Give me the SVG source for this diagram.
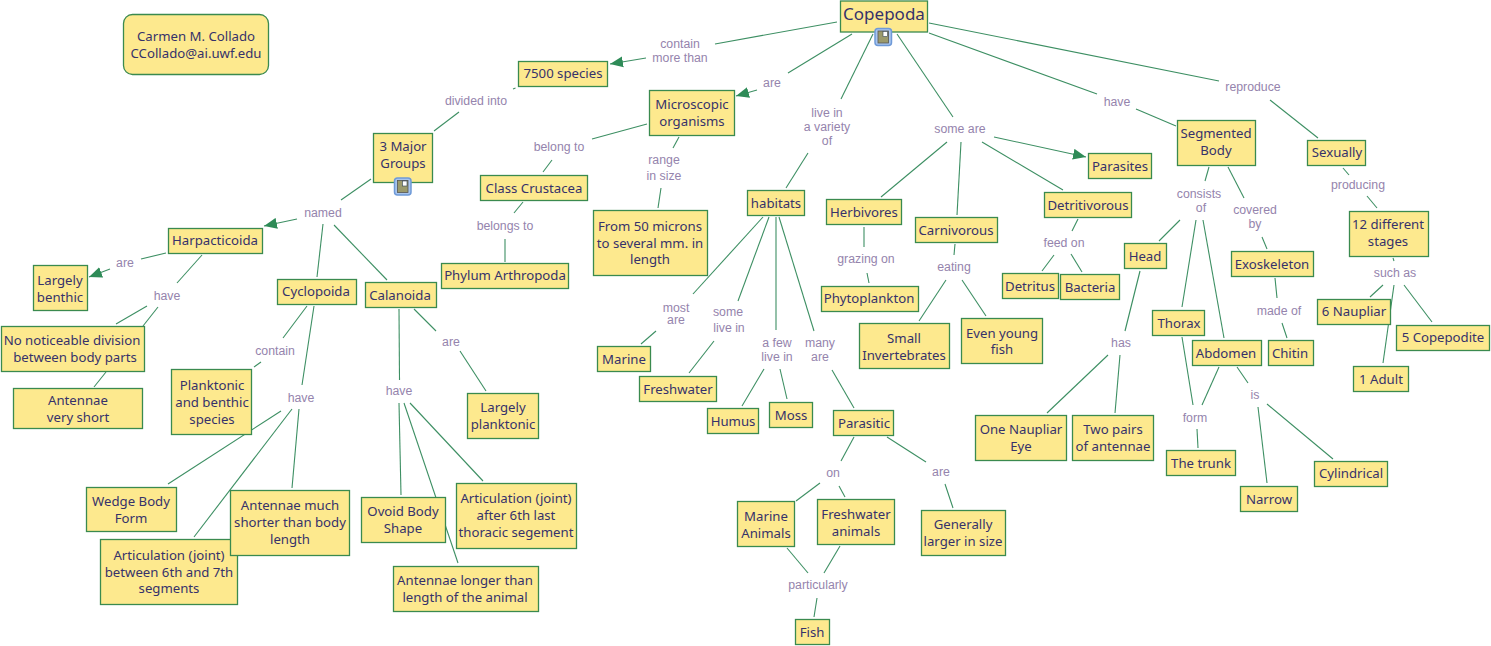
<svg xmlns="http://www.w3.org/2000/svg" width="1491" height="646" viewBox="0 0 1491 646">
<defs>
<marker id="arr" markerUnits="userSpaceOnUse" markerWidth="14" markerHeight="12" refX="13" refY="6" orient="auto"><path d="M0,0.500L13,6L0,11.500z" fill="#2e8b57"/></marker>
<g id="doc"><rect x="0" y="0" width="16.500" height="17" rx="3" fill="#a9c6ee" stroke="#6f9ad8" stroke-width="1.500"/><rect x="3" y="2.500" width="10.500" height="12" fill="#9b9a6c" stroke="#555" stroke-width="0.800"/><rect x="8" y="3" width="4.500" height="5" fill="#fff" stroke="#345" stroke-width="0.600"/></g>
</defs>
<style>
rect.n{fill:#fde98e;stroke:#3a8a4f;stroke-width:1.300}
text{text-anchor:middle}
.t{font:13.200px "Noto Sans","Open Sans",sans-serif;fill:#36326a;transform:translateY(-0.500px)}
.l{font:12.300px "Liberation Sans",Arial,sans-serif;fill:#9584ad}
#c line{stroke:#3d8f63;stroke-width:1.100;fill:none}
</style>
<rect width="1491" height="646" fill="#fff"/>
<g id="c">
<line x1="837" y1="22" x2="715" y2="44"/><line x1="646" y1="58" x2="610" y2="64" marker-end="url(#arr)"/>
<line x1="852" y1="34" x2="788" y2="73"/><line x1="757" y1="90" x2="736" y2="96" marker-end="url(#arr)"/>
<line x1="873" y1="34" x2="841" y2="99"/><line x1="808" y1="153" x2="786" y2="188"/>
<line x1="897" y1="34" x2="953" y2="117"/>
<line x1="929" y1="33" x2="1097" y2="94"/><line x1="1136" y1="109" x2="1176" y2="126"/>
<line x1="929" y1="23" x2="1219" y2="81"/><line x1="1270" y1="100" x2="1318" y2="138"/>
<line x1="515.500" y1="88" x2="513" y2="89"/><line x1="459" y1="112" x2="434" y2="131"/>
<line x1="647" y1="124" x2="592" y2="139"/><line x1="552" y1="160" x2="543" y2="172"/>
<line x1="679" y1="137" x2="673" y2="148"/><line x1="661" y1="188" x2="658" y2="208"/>
<line x1="523" y1="202" x2="514" y2="213"/><line x1="505" y1="239" x2="505" y2="262"/>
<line x1="371" y1="179" x2="341" y2="200"/><line x1="297" y1="219" x2="264" y2="226" marker-end="url(#arr)"/>
<line x1="323" y1="224" x2="317" y2="277"/><line x1="334" y1="225" x2="387" y2="280"/>
<line x1="166" y1="253" x2="141" y2="259"/><line x1="110" y1="269" x2="89" y2="277" marker-end="url(#arr)"/>
<line x1="202" y1="255" x2="177" y2="283"/>
<line x1="147" y1="306" x2="116" y2="324"/><line x1="158" y1="307" x2="143" y2="326"/>
<line x1="106" y1="372" x2="94" y2="387"/>
<line x1="307" y1="306" x2="283" y2="338"/><line x1="261" y1="362" x2="254" y2="367"/>
<line x1="314" y1="306" x2="302" y2="385"/>
<line x1="281" y1="411" x2="168" y2="484"/><line x1="292" y1="409" x2="194" y2="537"/><line x1="299" y1="409" x2="292" y2="488"/>
<line x1="399" y1="309" x2="399.500" y2="380"/><line x1="414" y1="309" x2="436" y2="331"/><line x1="460" y1="351" x2="486" y2="391"/>
<line x1="399" y1="403" x2="401" y2="495"/><line x1="404" y1="403" x2="458" y2="563"/><line x1="410" y1="403" x2="483" y2="481"/>
<line x1="763" y1="217" x2="693" y2="294"/><line x1="769" y1="217" x2="738" y2="301"/><line x1="776" y1="217" x2="776" y2="330"/><line x1="779" y1="217" x2="814" y2="331"/>
<line x1="656" y1="331" x2="641" y2="344"/><line x1="714" y1="341" x2="689" y2="373"/>
<line x1="764" y1="369" x2="742" y2="406"/><line x1="780" y1="369" x2="787" y2="399"/>
<line x1="832" y1="370" x2="854" y2="408"/>
<line x1="947" y1="142" x2="881" y2="197"/><line x1="961" y1="142" x2="957" y2="215"/><line x1="982" y1="142" x2="1063" y2="190"/><line x1="994" y1="137" x2="1086" y2="157" marker-end="url(#arr)"/>
<line x1="864" y1="227" x2="864" y2="247"/><line x1="867" y1="273" x2="869" y2="283"/>
<line x1="955" y1="244" x2="954" y2="255"/><line x1="946" y1="280" x2="919" y2="321"/><line x1="962" y1="280" x2="986" y2="316"/>
<line x1="1078" y1="219" x2="1072" y2="231"/><line x1="1054" y1="255" x2="1042" y2="271"/><line x1="1071" y1="254" x2="1082" y2="272"/>
<line x1="1209" y1="167" x2="1205" y2="181"/><line x1="1228" y1="167" x2="1244" y2="198"/>
<line x1="1180" y1="220" x2="1159" y2="241"/><line x1="1196" y1="220" x2="1182" y2="307"/><line x1="1203" y1="220" x2="1224" y2="338"/>
<line x1="1262" y1="237" x2="1267" y2="249"/><line x1="1275" y1="278" x2="1277" y2="298"/><line x1="1282" y1="323" x2="1287" y2="338"/>
<line x1="1140" y1="271" x2="1125" y2="331"/><line x1="1108" y1="355" x2="1047" y2="413"/><line x1="1120" y1="355" x2="1115" y2="413"/>
<line x1="1182" y1="337" x2="1193" y2="405"/><line x1="1219" y1="367" x2="1202" y2="405"/><line x1="1197" y1="429" x2="1198" y2="448"/>
<line x1="1237" y1="367" x2="1248" y2="383"/><line x1="1258" y1="407" x2="1267" y2="483"/><line x1="1267" y1="404" x2="1333" y2="459"/>
<line x1="1343" y1="168" x2="1349" y2="175"/><line x1="1367" y1="196" x2="1377" y2="208"/>
<line x1="1393" y1="258" x2="1394" y2="261"/>
<line x1="1383" y1="285" x2="1370" y2="297"/><line x1="1394" y1="285" x2="1383" y2="363"/><line x1="1404" y1="285" x2="1432" y2="322"/>
<line x1="854" y1="437" x2="841" y2="461"/><line x1="820" y1="483" x2="796" y2="501"/><line x1="839" y1="486" x2="845" y2="497"/>
<line x1="887" y1="437" x2="926" y2="462"/><line x1="945" y1="484" x2="953" y2="508"/>
<line x1="787" y1="548" x2="808" y2="573"/><line x1="840" y1="546" x2="824" y2="573"/><line x1="817" y1="598" x2="814" y2="617"/>
</g>
<g id="n1"><rect class="n" x="840.500" y="1" width="87" height="31"/><text class="t" x="884" y="20" style="font-size:17px">Copepoda</text><use href="#doc" x="875" y="28.500"/></g>
<g id="n2"><rect class="n" x="123.500" y="14.500" width="145" height="60" rx="9"/><text class="t" x="196" y="41">Carmen M. Collado</text><text class="t" x="196" y="58">CCollado@ai.uwf.edu</text></g>
<g id="n3"><rect class="n" x="518.500" y="61.500" width="89" height="25"/><text class="t" x="563" y="78">7500 species</text></g>
<g id="n4"><rect class="n" x="373.500" y="133.500" width="59" height="49"/><text class="t" x="403" y="151">3 Major</text><text class="t" x="403" y="168">Groups</text><use href="#doc" x="394.500" y="178"/></g>
<g id="n5"><rect class="n" x="649.500" y="90.500" width="85" height="45"/><text class="t" x="692" y="109">Microscopic</text><text class="t" x="692" y="126">organisms</text></g>
<g id="n6"><rect class="n" x="480.500" y="175.500" width="107" height="25"/><text class="t" x="534" y="193">Class Crustacea</text></g>
<g id="n7"><rect class="n" x="441.500" y="263.500" width="127" height="25"/><text class="t" x="505" y="280">Phylum Arthropoda</text></g>
<g id="n8"><rect class="n" x="593.500" y="210.500" width="114" height="65"/><text class="t" x="650" y="231">From 50 microns</text><text class="t" x="650" y="248">to several mm. in</text><text class="t" x="650" y="264">length</text></g>
<g id="n9"><rect class="n" x="168.500" y="228.500" width="94" height="25"/><text class="t" x="215" y="245">Harpacticoida</text></g>
<g id="n10"><rect class="n" x="33.500" y="265.500" width="54" height="45"/><text class="t" x="60" y="285">Largely</text><text class="t" x="60" y="302">benthic</text></g>
<g id="n11"><rect class="n" x="1.500" y="326.500" width="143" height="45"/><text class="t" x="72" y="345">No noticeable division</text><text class="t" x="75" y="362">between body parts</text></g>
<g id="n12"><rect class="n" x="13.500" y="388.500" width="129" height="40"/><text class="t" x="78" y="405">Antennae</text><text class="t" x="78" y="422">very short</text></g>
<g id="n13"><rect class="n" x="277.500" y="279.500" width="79" height="25"/><text class="t" x="316" y="296">Cyclopoida</text></g>
<g id="n14"><rect class="n" x="365.500" y="282.500" width="71" height="25"/><text class="t" x="400" y="300">Calanoida</text></g>
<g id="n15"><rect class="n" x="171.500" y="369.500" width="80" height="65"/><text class="t" x="212" y="390">Planktonic</text><text class="t" x="212" y="407">and benthic</text><text class="t" x="212" y="424">species</text></g>
<g id="n16"><rect class="n" x="467.500" y="393.500" width="71" height="45"/><text class="t" x="503" y="412">Largely</text><text class="t" x="503" y="429">planktonic</text></g>
<g id="n17"><rect class="n" x="86.500" y="487.500" width="90" height="44"/><text class="t" x="131" y="506">Wedge Body</text><text class="t" x="131" y="523">Form</text></g>
<g id="n19"><rect class="n" x="100.500" y="539.500" width="137" height="65"/><text class="t" x="169" y="560">Articulation (joint)</text><text class="t" x="169" y="577">between 6th and 7th</text><text class="t" x="169" y="593">segments</text></g>
<g id="n18"><rect class="n" x="230.500" y="490.500" width="119" height="65"/><text class="t" x="290" y="510">Antennae much</text><text class="t" x="290" y="527">shorter than body</text><text class="t" x="290" y="544">length</text></g>
<g id="n20"><rect class="n" x="361.500" y="497.500" width="84" height="45"/><text class="t" x="403" y="516">Ovoid Body</text><text class="t" x="403" y="533">Shape</text></g>
<g id="n21"><rect class="n" x="456.500" y="483.500" width="120" height="65"/><text class="t" x="516" y="503">Articulation (joint)</text><text class="t" x="516" y="520">after 6th last</text><text class="t" x="516" y="537">thoracic segement</text></g>
<g id="n22"><rect class="n" x="393.500" y="566.500" width="145" height="45"/><text class="t" x="465" y="585">Antennae longer than</text><text class="t" x="465" y="602">length of the animal</text></g>
<g id="n23"><rect class="n" x="747.500" y="190.500" width="57" height="25"/><text class="t" x="776" y="208">habitats</text></g>
<g id="n24"><rect class="n" x="597.500" y="346.500" width="53" height="25"/><text class="t" x="624" y="364">Marine</text></g>
<g id="n25"><rect class="n" x="639.500" y="376.500" width="77" height="25"/><text class="t" x="678" y="394">Freshwater</text></g>
<g id="n26"><rect class="n" x="707.500" y="408.500" width="51" height="25"/><text class="t" x="733" y="426">Humus</text></g>
<g id="n27"><rect class="n" x="769.500" y="402.500" width="43" height="25"/><text class="t" x="791" y="420">Moss</text></g>
<g id="n28"><rect class="n" x="833.500" y="410.500" width="60" height="25"/><text class="t" x="864" y="428">Parasitic</text></g>
<g id="n29"><rect class="n" x="737.500" y="501.500" width="57" height="45"/><text class="t" x="766" y="521">Marine</text><text class="t" x="766" y="538">Animals</text></g>
<g id="n30"><rect class="n" x="817.500" y="499.500" width="77" height="45"/><text class="t" x="856" y="519">Freshwater</text><text class="t" x="856" y="536">animals</text></g>
<g id="n31"><rect class="n" x="921.500" y="510.500" width="84" height="45"/><text class="t" x="963" y="529">Generally</text><text class="t" x="963" y="546">larger in size</text></g>
<g id="n32"><rect class="n" x="795.500" y="619.500" width="34" height="25"/><text class="t" x="812" y="637">Fish</text></g>
<g id="n33"><rect class="n" x="826.500" y="199.500" width="75" height="25"/><text class="t" x="864" y="217">Herbivores</text></g>
<g id="n34"><rect class="n" x="915.500" y="217.500" width="82" height="25"/><text class="t" x="956" y="235">Carnivorous</text></g>
<g id="n35"><rect class="n" x="1044.500" y="192.500" width="87" height="25"/><text class="t" x="1088" y="210">Detritivorous</text></g>
<g id="n36"><rect class="n" x="1088.500" y="153.500" width="63" height="25"/><text class="t" x="1120" y="171">Parasites</text></g>
<g id="n37"><rect class="n" x="821.500" y="286.500" width="97" height="25"/><text class="t" x="869" y="303">Phytoplankton</text></g>
<g id="n38"><rect class="n" x="859.500" y="323.500" width="90" height="45"/><text class="t" x="904" y="343">Small</text><text class="t" x="904" y="360">Invertebrates</text></g>
<g id="n39"><rect class="n" x="961.500" y="318.500" width="81" height="45"/><text class="t" x="1002" y="338">Even young</text><text class="t" x="1002" y="354">fish</text></g>
<g id="n40"><rect class="n" x="1002.500" y="273.500" width="56" height="25"/><text class="t" x="1030" y="291">Detritus</text></g>
<g id="n41"><rect class="n" x="1060.500" y="274.500" width="59" height="25"/><text class="t" x="1090" y="292">Bacteria</text></g>
<g id="n42"><rect class="n" x="1177.500" y="120.500" width="78" height="45"/><text class="t" x="1216" y="138">Segmented</text><text class="t" x="1216" y="155">Body</text></g>
<g id="n43"><rect class="n" x="1124.500" y="243.500" width="42" height="25"/><text class="t" x="1145" y="261">Head</text></g>
<g id="n44"><rect class="n" x="1152.500" y="310.500" width="52" height="25"/><text class="t" x="1179" y="328">Thorax</text></g>
<g id="n45"><rect class="n" x="1192.500" y="340.500" width="69" height="25"/><text class="t" x="1226" y="358">Abdomen</text></g>
<g id="n46"><rect class="n" x="1231.500" y="251.500" width="82" height="25"/><text class="t" x="1272" y="269">Exoskeleton</text></g>
<g id="n47"><rect class="n" x="1268.500" y="340.500" width="45" height="25"/><text class="t" x="1290" y="358">Chitin</text></g>
<g id="n48"><rect class="n" x="975.500" y="415.500" width="91" height="45"/><text class="t" x="1021" y="434">One Naupliar</text><text class="t" x="1021" y="451">Eye</text></g>
<g id="n49"><rect class="n" x="1072.500" y="415.500" width="81" height="45"/><text class="t" x="1113" y="434">Two pairs</text><text class="t" x="1113" y="451">of antennae</text></g>
<g id="n50"><rect class="n" x="1166.500" y="450.500" width="69" height="25"/><text class="t" x="1201" y="468">The trunk</text></g>
<g id="n51"><rect class="n" x="1240.500" y="486.500" width="57" height="25"/><text class="t" x="1269" y="504">Narrow</text></g>
<g id="n52"><rect class="n" x="1314.500" y="461.500" width="73" height="25"/><text class="t" x="1351" y="478">Cylindrical</text></g>
<g id="n53"><rect class="n" x="1307.500" y="140.500" width="58" height="25"/><text class="t" x="1337" y="157">Sexually</text></g>
<g id="n54"><rect class="n" x="1349.500" y="211.500" width="79" height="45"/><text class="t" x="1388" y="229">12 different</text><text class="t" x="1388" y="246">stages</text></g>
<g id="n56"><rect class="n" x="1353.500" y="366.500" width="55" height="25"/><text class="t" x="1381" y="384">1 Adult</text></g>
<g id="n55"><rect class="n" x="1317.500" y="299.500" width="73" height="25"/><text class="t" x="1354" y="316">6 Naupliar</text></g>
<g id="n57"><rect class="n" x="1396.500" y="325.500" width="93" height="25"/><text class="t" x="1443" y="342">5 Copepodite</text></g>
<g id="labels">
<text class="l" x="680" y="48">contain</text><text class="l" x="680" y="62">more than</text>
<text class="l" x="772" y="87">are</text>
<text class="l" x="827" y="117">live in</text><text class="l" x="827" y="131">a variety</text><text class="l" x="827" y="145">of</text>
<text class="l" x="960" y="133">some are</text>
<text class="l" x="1117" y="106">have</text>
<text class="l" x="1253" y="91">reproduce</text>
<text class="l" x="476" y="105">divided into</text>
<text class="l" x="559" y="151">belong to</text>
<text class="l" x="664" y="164">range</text><text class="l" x="664" y="180">in size</text>
<text class="l" x="505" y="230">belongs to</text>
<text class="l" x="323" y="217">named</text>
<text class="l" x="125" y="267">are</text>
<text class="l" x="167" y="300">have</text>
<text class="l" x="275" y="355">contain</text>
<text class="l" x="301" y="402">have</text>
<text class="l" x="451" y="346">are</text>
<text class="l" x="399" y="395">have</text>
<text class="l" x="676" y="312">most</text><text class="l" x="676" y="324">are</text>
<text class="l" x="728" y="316">some</text><text class="l" x="729" y="332">live in</text>
<text class="l" x="777" y="347">a few</text><text class="l" x="777" y="361">live in</text>
<text class="l" x="820" y="347">many</text><text class="l" x="820" y="361">are</text>
<text class="l" x="833" y="477">on</text>
<text class="l" x="941" y="476">are</text>
<text class="l" x="818" y="589">particularly</text>
<text class="l" x="866" y="263">grazing on</text>
<text class="l" x="954" y="271">eating</text>
<text class="l" x="1064" y="247">feed on</text>
<text class="l" x="1199" y="198">consists</text><text class="l" x="1201" y="212">of</text>
<text class="l" x="1255" y="214">covered</text><text class="l" x="1255" y="228">by</text>
<text class="l" x="1279" y="315">made of</text>
<text class="l" x="1121" y="347">has</text>
<text class="l" x="1195" y="422">form</text>
<text class="l" x="1255" y="399">is</text>
<text class="l" x="1358" y="189">producing</text>
<text class="l" x="1395" y="277">such as</text>
</g>
</svg>
